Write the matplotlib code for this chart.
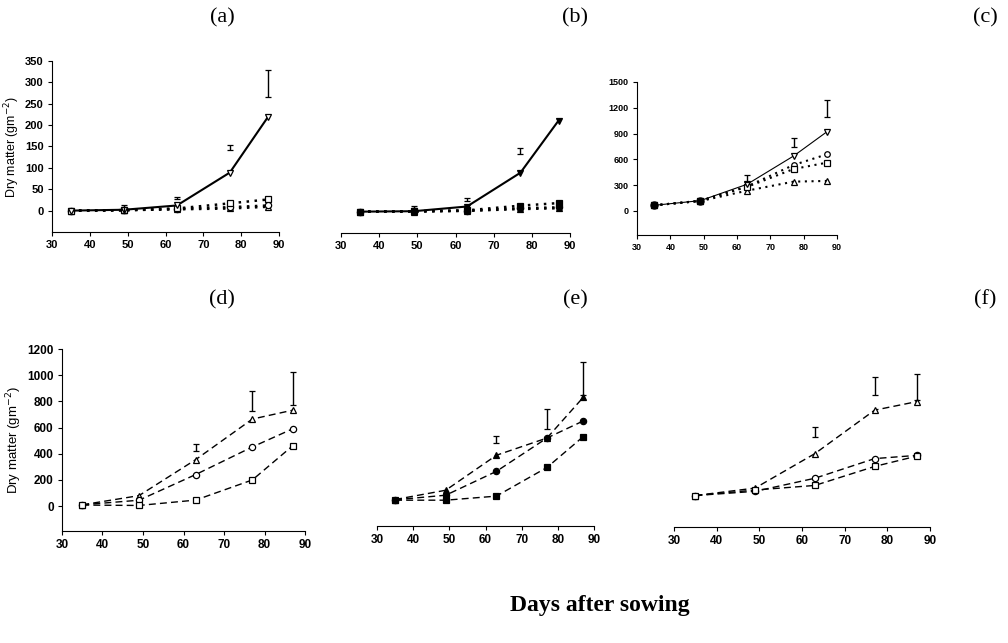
import numpy as np
import matplotlib
matplotlib.use('Agg')
import matplotlib.pyplot as plt

plt.rcParams['font.family'] = ['Liberation Sans', 'DejaVu Sans']

#=============== data ===============================
days = [35, 49, 63, 77, 87]

# (a) open markers
a_down = [0, 2, 12, 89, 218]
a_square = [0, 1, 5, 17, 26]
a_circle = [0, 1, 4, 8, 12]
a_up = [0, 1, 3, 5, 9]
a_err_x = [49, 63, 77, 87]
a_err_lo = [-6, 27, 142, 265]
a_err_hi = [12, 32, 153, 330]

# (b) filled markers
b_down = [0, 1, 12, 91, 213]
b_square = [0, 1, 3, 14, 20]
b_circle = [0, 1, 2, 8, 10]
b_up = [0, 0, 2, 6, 8]
b_err_x = [49, 63, 77]
b_err_lo = [6, 26, 135]
b_err_hi = [14, 33, 150]

# (c)
c_down = [65, 120, 310, 640, 922]
c_circle = [65, 118, 285, 535, 659]
c_square = [65, 118, 280, 488, 562]
c_up = [65, 115, 236, 341, 349]
c_err_x = [63, 77, 87]
c_err_lo = [340, 744, 1096]
c_err_hi = [420, 849, 1290]

# (d) open markers
d_up = [10, 80, 355, 665, 733]
d_circle = [10, 45, 241, 452, 591]
d_square = [8, 5, 46, 200, 462]
d_err_x = [63, 77, 87]
d_err_lo = [424, 728, 771]
d_err_hi = [477, 880, 1028]

# (e) filled markers
e_up = [10, 81, 348, 480, 790]
e_circle = [8, 43, 225, 480, 610]
e_square = [5, 5, 36, 255, 490]
e_err_x = [63, 77, 87]
e_err_lo = [442, 548, 805]
e_err_hi = [497, 703, 1063]

# (f) open markers
f_up = [48, 105, 368, 700, 766]
f_circle = [48, 80, 180, 330, 355]
f_square = [48, 90, 125, 270, 350]
f_err_x = [63, 77, 87]
f_err_lo = [495, 815, 779]
f_err_hi = [575, 950, 980]

#=============== helpers ===============================
def err_bars(ax, x, lo, hi):
	lo = np.array(lo, dtype=float)
	hi = np.array(hi, dtype=float)
	ax.errorbar(x, (lo + hi) / 2., yerr=(hi - lo) / 2., fmt='none',
		ecolor='black', elinewidth=1.0, capsize=2.5, capthick=0.9)

def style_axis(ax, show_y, fs):
	ax.spines['top'].set_visible(False)
	ax.spines['right'].set_visible(False)
	ax.set_xlim(30, 90)
	ax.set_xticks([30, 40, 50, 60, 70, 80, 90])
	ax.tick_params(axis='both', direction='out', length=3, width=0.8,
		labelsize=fs, pad=3)
	for lab in ax.get_xticklabels() + ax.get_yticklabels():
		lab.set_fontweight('bold')
	if not show_y:
		ax.spines['left'].set_visible(False)
		ax.set_yticks([])

def line(ax, y, marker, ls, lw, filled, ms=4.5, dashes=None):
	fc = 'black' if filled else 'white'
	l, = ax.plot(days, y, color='black', linestyle=ls, linewidth=lw,
		marker=marker, markersize=ms, markerfacecolor=fc,
		markeredgecolor='black', markeredgewidth=0.9)
	if dashes is not None:
		l.set_dashes(dashes)
	return l

dots = (1.0, 2.2)
dash = (5, 3)

fig = plt.figure(figsize=(10.08, 6.43), dpi=100)

#------------- (a) ----------------
ax = fig.add_axes([0.0516, 0.6392, 0.2252, 0.266])
line(ax, a_up, '^', '-', 1.8, False, dashes=dots)
line(ax, a_circle, 'o', '-', 1.8, False, dashes=dots)
line(ax, a_square, 's', '-', 1.8, False, dashes=dots)
line(ax, a_down, 'v', '-', 1.5, False)
err_bars(ax, a_err_x, a_err_lo, a_err_hi)
ax.set_ylim(-50, 350)
ax.set_yticks(range(0, 351, 50))
style_axis(ax, True, 8)
ax.set_ylabel('Dry matter (gm$^{-2}$)', fontsize=9, labelpad=2)

#------------- (b) ----------------
ax = fig.add_axes([0.3383, 0.6376, 0.2272, 0.266])
line(ax, b_up, '^', '-', 1.8, True, dashes=dots)
line(ax, b_circle, 'o', '-', 1.8, True, dashes=dots)
line(ax, b_square, 's', '-', 1.8, True, dashes=dots)
line(ax, b_down, 'v', '-', 1.5, True)
err_bars(ax, b_err_x, b_err_lo, b_err_hi)
ax.set_ylim(-50, 350)
style_axis(ax, False, 8)

#------------- (c) ----------------
ax = fig.add_axes([0.632, 0.6345, 0.1984, 0.238])
line(ax, c_up, '^', '-', 1.5, False, ms=4, dashes=dots)
line(ax, c_circle, 'o', '-', 1.5, False, ms=4, dashes=dots)
line(ax, c_square, 's', '-', 1.5, False, ms=4, dashes=dots)
line(ax, c_down, 'v', '-', 0.8, False, ms=4)
ax.plot(days[:2], c_down[:2], 'o', color='black', markersize=5)
err_bars(ax, c_err_x, c_err_lo, c_err_hi)
ax.set_ylim(-280, 1500)
ax.set_yticks(range(0, 1501, 300))
style_axis(ax, True, 6.5)

#------------- (d) ----------------
ax = fig.add_axes([0.0615, 0.1742, 0.2411, 0.283])
line(ax, d_up, '^', '--', 1.0, False, dashes=dash)
line(ax, d_circle, 'o', '--', 1.0, False, dashes=dash)
line(ax, d_square, 's', '--', 1.0, False, dashes=dash)
err_bars(ax, d_err_x, d_err_lo, d_err_hi)
ax.set_ylim(-190, 1200)
ax.set_yticks(range(0, 1201, 200))
style_axis(ax, True, 8.5)
ax.set_ylabel('Dry matter (gm$^{-2}$)', fontsize=9.5, labelpad=2)

#------------- (e) ----------------
ax = fig.add_axes([0.374, 0.1824, 0.2153, 0.283])
line(ax, e_up, '^', '--', 1.0, True, dashes=dash)
line(ax, e_circle, 'o', '--', 1.0, True, dashes=dash)
line(ax, e_square, 's', '--', 1.0, True, dashes=dash)
err_bars(ax, e_err_x, e_err_lo, e_err_hi)
ax.set_ylim(-190, 1200)
style_axis(ax, False, 8.5)

#------------- (f) ----------------
ax = fig.add_axes([0.6687, 0.1809, 0.254, 0.283])
line(ax, f_up, '^', '--', 1.0, False, dashes=dash)
line(ax, f_circle, 'o', '--', 1.0, False, dashes=dash)
line(ax, f_square, 's', '--', 1.0, False, dashes=dash)
err_bars(ax, f_err_x, f_err_lo, f_err_hi)
ax.set_ylim(-190, 1200)
style_axis(ax, False, 8.5)

#------------- labels ----------------
serif = ['Liberation Serif', 'DejaVu Serif']
for lab, x, y in [('(a)', 222, 18), ('(b)', 575, 18), ('(c)', 985, 18),
				  ('(d)', 222, 300), ('(e)', 575, 300), ('(f)', 985, 300)]:
	fig.text(x / 1008., 1 - y / 643., lab, ha='center', va='center',
		fontsize=16, family=serif)

fig.text(600 / 1008., 1 - 605 / 643., 'Days after sowing', ha='center',
	va='center', fontsize=17, fontweight='bold', family=serif)

fig.savefig('out.png', dpi=100)
